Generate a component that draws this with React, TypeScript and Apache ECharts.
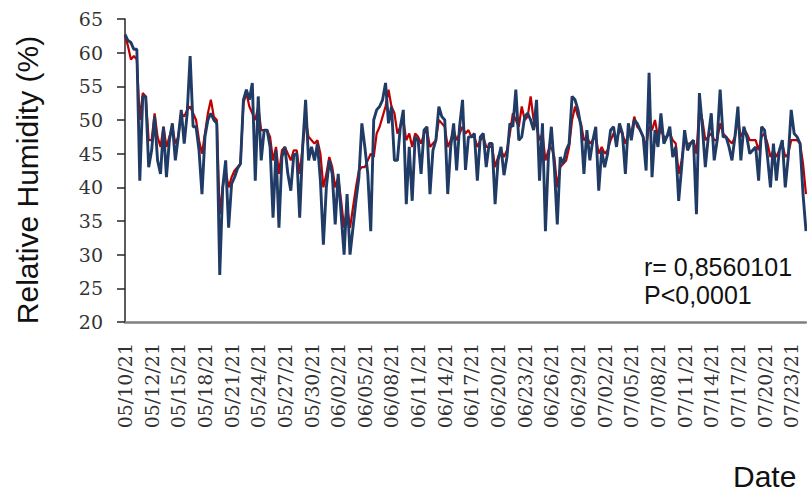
import React, { useEffect, useRef } from 'react';
import * as echarts from 'echarts';

// Three readings per day, from 05/10/21 to 07/25/21
const tickLabels = [
  '05/10/21', '05/12/21', '05/15/21', '05/18/21', '05/21/21', '05/24/21', '05/27/21', '05/30/21',
  '06/02/21', '06/05/21', '06/08/21', '06/11/21', '06/14/21', '06/17/21', '06/20/21', '06/23/21',
  '06/26/21', '06/29/21', '07/02/21', '07/05/21', '07/08/21', '07/11/21', '07/14/21', '07/17/21',
  '07/20/21', '07/23/21',
];

const blueSeries = [
  62.7, 61.8, 61.5, 60.5, 60.5, 41, 53.5, 53.5, 43,
  45.5, 50.5, 44, 42, 49, 41.5, 47, 49.5, 44,
  47.5, 51.5, 46.5, 51, 59.5, 49, 49, 45.5, 39,
  47.5, 50, 51, 50, 49.5, 27, 40, 44, 34,
  40.5, 41.5, 42.8, 43.5, 53, 54.5, 53, 55.5, 41,
  53.5, 44, 48.5, 48.5, 46, 35.5, 45.5, 34, 44.5,
  46, 42, 39.5, 44.8, 45, 35.5, 46, 53, 44,
  46, 44, 46.5, 41, 31.5, 40, 44, 42, 34.5,
  42, 36, 30, 39, 30, 34, 38, 41.5, 49.5,
  46, 42, 33.5, 50, 51.5, 52, 53, 55.5, 49.5,
  52, 44, 44, 49, 51.5, 37.5, 46, 38, 47.5,
  47, 42, 48.5, 49, 39, 45.5, 47, 52, 50.5,
  50, 39, 46, 49.5, 42.5, 49, 53, 42.6, 47.5,
  47.5, 48, 41, 47.5, 48, 43, 46.5, 46.5, 37.5,
  44, 46, 41.8, 44.5, 49.5, 49, 54.5, 47, 47.5,
  50.5, 51, 50, 48.5, 53, 41, 49.5, 33.5, 44.5,
  49, 43, 34.5, 44.5, 43.5, 45.5, 46.5, 53.5, 53,
  51.5, 49, 42, 48.5, 44, 47, 49, 39.5, 45.5,
  43, 45, 48.5, 49, 46, 49.5, 48, 42, 49.5,
  47, 50, 49.5, 48.5, 47.5, 42.5, 57, 41.5, 48.5,
  46, 51, 46.5, 47.5, 49, 44.5, 46, 38, 43,
  48.5, 45.5, 46.5, 47, 36, 54, 49, 43, 47.5,
  51, 44, 47, 54.5, 47.5, 47.5, 46, 44, 47.5,
  52, 44, 49, 47.5, 45, 45.5, 46, 41, 49,
  48.5, 44.5, 40, 46.5, 41, 45.5, 47, 40, 44.5,
  51.5, 48, 47.5, 46.5, 39, 33.5,
];

const redSeries = [
  62.5, 61, 59, 59.5, 59, 50, 54, 53.5, 47,
  47, 51, 47.5, 46, 49, 46, 47.5, 49, 46.5,
  47.5, 51, 50.5, 51.5, 52, 51, 50, 47, 45,
  48, 51, 53, 50.5, 50, 36, 40, 42.5, 40,
  41.5, 42.5, 43, 43.5, 52.5, 54, 52, 51, 50,
  52, 48.5, 48.5, 48.5, 47.5, 44, 46, 42, 45.5,
  46, 45, 44, 45.5, 45.5, 42, 46, 50, 47.5,
  47, 46.5, 47, 45, 40, 42, 44.5, 43, 40,
  41.5, 38, 34, 37, 34, 37, 40, 42.5, 43,
  43, 44, 45, 44.5, 48, 49, 50.5, 52, 54.5,
  52, 51, 48, 49, 50, 47, 48, 46, 48,
  47.5, 46.5, 48, 48.5, 46, 46.5, 47, 50, 49.5,
  49, 46, 47, 48.5, 47, 48, 49, 48, 48.5,
  47.5, 47.5, 46, 47, 47.5, 46, 46, 46, 43,
  44.5, 45.5, 44.5, 45.5, 48, 51, 50, 49, 52,
  50, 50.5, 53.5, 50, 49, 47, 48, 44, 45.5,
  46, 44.5, 40, 43, 43.5, 44, 46, 50, 52,
  50.5, 49.5, 47, 47.5, 46.5, 47, 47.5, 45, 46,
  45, 45.5, 47, 48, 47, 48.5, 48, 46.5, 48,
  48, 50.5, 49, 48.5, 47.5, 46, 49, 48.5, 50,
  47.5, 48.5, 47.5, 47.5, 48, 47, 46.5, 42, 44,
  47, 46.5, 46.5, 47, 45, 52, 50, 47, 47.5,
  48, 47, 47, 49.5, 48, 47.5, 47, 46.5, 47.5,
  50, 47.5, 48.5, 48, 47, 47, 47, 45.5, 47.5,
  48, 46.5, 44.5, 45.5, 44.5, 45.5, 46.5, 44.5, 45,
  47, 47, 47, 46.5, 43.5, 39,
];

const categories = blueSeries.map((_, i) => String(i));
const LABEL_STEP = 9;

export default function App() {
  const ref = useRef<HTMLDivElement>(null);
  useEffect(() => {
    if (!ref.current) return;
    const chart = echarts.init(ref.current, undefined, { renderer: 'svg' });
    chart.setOption({
      animation: false,
      backgroundColor: '#ffffff',
      grid: { left: 125, right: 1, top: 19, bottom: 170, containLabel: false },
      xAxis: {
        type: 'category',
        data: categories,
        boundaryGap: false,
        axisLine: { onZero: false, lineStyle: { color: '#808080', width: 2.5 } },
        axisTick: { show: false },
        splitLine: { show: false },
        axisLabel: {
          interval: LABEL_STEP - 1,
          rotate: 90,
          margin: 21,
          color: '#333333',
          fontFamily: 'DejaVu Serif',
          fontSize: 19,
          formatter: (_v: string, idx: number) => tickLabels[idx / LABEL_STEP] ?? '',
        },
      },
      yAxis: {
        type: 'value',
        min: 20,
        max: 65,
        interval: 5,
        axisLine: { show: true, lineStyle: { color: '#262626', width: 1.5 } },
        axisTick: { show: true, length: 8, lineStyle: { color: '#262626', width: 1.5 } },
        splitLine: { show: false },
        axisLabel: {
          margin: 22,
          color: '#333333',
          fontFamily: 'DejaVu Serif',
          fontSize: 19,
        },
      },
      series: [
        {
          type: 'line',
          data: redSeries,
          symbol: 'none',
          lineStyle: { color: '#C00000', width: 2.2 },
          z: 2,
        },
        {
          type: 'line',
          data: blueSeries,
          symbol: 'none',
          lineStyle: { color: '#1F3B66', width: 2.9 },
          z: 3,
        },
      ],
      graphic: [
        {
          type: 'text',
          x: 27,
          y: 180,
          rotation: Math.PI / 2,
          style: {
            text: 'Relative Humidity (%)',
            font: '30px "Liberation Sans", Arial, sans-serif',
            fill: '#111111',
            align: 'center',
            verticalAlign: 'middle',
          },
        },
        {
          type: 'text',
          x: 733,
          y: 476,
          style: {
            text: 'Date',
            font: '30px "Liberation Sans", Arial, sans-serif',
            fill: '#111111',
            align: 'left',
            verticalAlign: 'middle',
          },
        },
        {
          type: 'text',
          x: 644,
          y: 267,
          style: {
            text: 'r= 0,8560101',
            font: '25px "Liberation Sans", Arial, sans-serif',
            fill: '#111111',
            align: 'left',
            verticalAlign: 'middle',
          },
        },
        {
          type: 'text',
          x: 644,
          y: 295,
          style: {
            text: 'P<0,0001',
            font: '25px "Liberation Sans", Arial, sans-serif',
            fill: '#111111',
            align: 'left',
            verticalAlign: 'middle',
          },
        },
      ],
    });
    return () => chart.dispose();
  }, []);
  return (
    <div
      ref={ref}
      style={{ position: 'fixed', left: 0, top: 0, width: 807, height: 492, background: '#fff' }}
    />
  );
}
